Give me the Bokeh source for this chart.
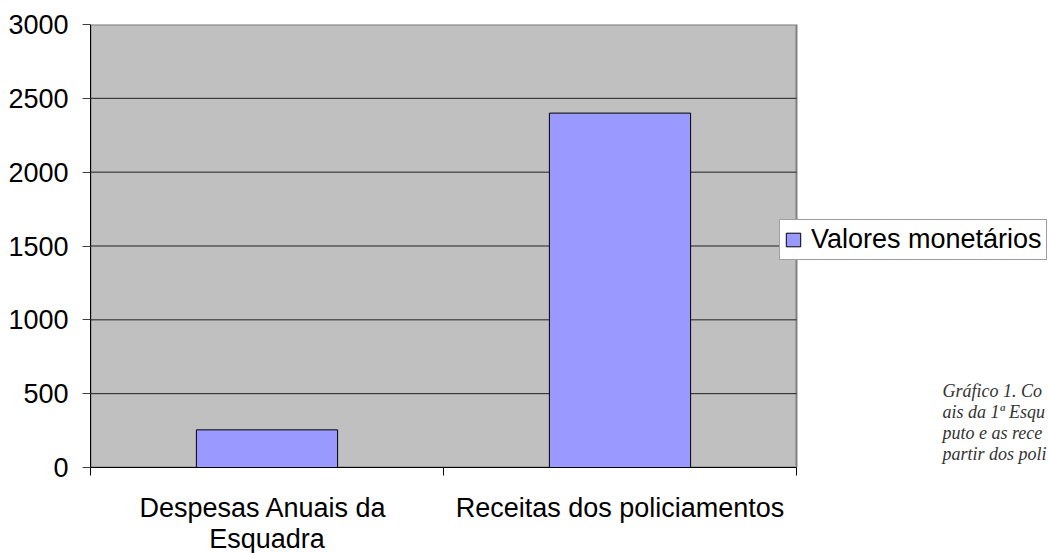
from bokeh.plotting import figure
from bokeh.models import (Range1d, LinearAxis, FixedTicker, Label, ColumnDataSource,
                          BoxAnnotation)
from bokeh.embed import file_html
from bokeh.resources import INLINE

# ---- data ----
categories = ["Despesas  Anuais da\nEsquadra", "Receitas dos policiamentos"]
values = [255, 2400]
series_name = "Valores monetários"
y_ticks = [0, 500, 1000, 1500, 2000, 2500, 3000]
caption_lines = ["Gráfico 1. Co", "ais da 1ª Esqu", "puto e as rece", "partir dos poli"]

FONT = "Liberation Sans"

# layout (pixels)
LEFT, TOP, BOTTOM = 90, 24, 86
PLOT_W, FRAME_W, FRAME_H = 706, 958, 443

n = len(categories)
centers = [i + 0.5 for i in range(n)]
y_max = max(y_ticks)

p = figure(x_range=Range1d(0, n * FRAME_W / PLOT_W), y_range=Range1d(0, y_max),
           frame_width=FRAME_W, frame_height=FRAME_H,
           min_border_left=LEFT, min_border_right=0, min_border_top=TOP,
           min_border_bottom=BOTTOM,
           output_backend="svg", toolbar_location=None,
           x_axis_location=None, y_axis_location=None)

p.background_fill_color = "white"
p.border_fill_color = "white"
p.outline_line_color = None
p.xgrid.visible = False
p.ygrid.visible = False

# plot area (gray) with its border
p.add_layout(BoxAnnotation(left=0, right=n, bottom=0, top=y_max,
                           fill_color="#C0C0C0", fill_alpha=1,
                           line_color="#808080", line_width=2, line_alpha=1,
                           level="underlay"))

# horizontal gridlines
grid_ys = [t for t in y_ticks if 0 < t < y_max]
p.segment(x0=[0] * len(grid_ys), x1=[n] * len(grid_ys), y0=grid_ys, y1=grid_ys,
          line_color="#202020", line_width=1)

src = ColumnDataSource(dict(x=centers, val=values, cat=categories))
p.vbar(x="x", top="val", width=0.4, source=src, fill_color="#9999FF",
       line_color="black", line_width=1, legend_label=series_name)

# y axis
yax = LinearAxis(ticker=FixedTicker(ticks=y_ticks))
yax.axis_line_color = "black"
yax.major_tick_out = 8
yax.major_tick_in = 0
yax.major_tick_line_color = "#404040"
yax.minor_tick_line_color = None
yax.major_label_text_font = FONT
yax.major_label_text_font_size = "27px"
yax.major_label_text_color = "black"
yax.major_label_standoff = 14
p.add_layout(yax, "left")

# x axis: labels at category centres, ticks at category boundaries
xax = LinearAxis(ticker=FixedTicker(ticks=centers, minor_ticks=list(range(n + 1))),
                 bounds=(0, n))
xax.major_label_overrides = {c: lab for c, lab in zip(centers, categories)}
xax.axis_line_color = "black"
xax.major_tick_line_color = None
xax.major_tick_out = 8
xax.major_tick_in = 0
xax.minor_tick_line_color = "black"
xax.minor_tick_out = 8
xax.minor_tick_in = 0
xax.major_label_text_font = FONT
xax.major_label_text_font_size = "27px"
xax.major_label_text_color = "black"
xax.major_label_text_line_height = 1.05
xax.major_label_standoff = 17
p.add_layout(xax, "below")

# legend
lg = p.legend[0]
lg.level = "overlay"
lg.location = (689, 207)
lg.border_line_color = "#404040"
lg.border_line_width = 1
lg.background_fill_color = "white"
lg.background_fill_alpha = 1
lg.padding = 4
lg.margin = 0
lg.glyph_width = 18
lg.glyph_height = 17
lg.label_standoff = 9
lg.label_height = 20
lg.label_text_font = FONT
lg.label_text_font_size = "27px"
lg.label_text_color = "black"

# caption (clipped at right edge, as in the original)
for i, line in enumerate(caption_lines):
    p.add_layout(Label(x=852, y=77 - 21 * i, x_units="screen", y_units="screen",
                       text=line, text_font="Liberation Serif", text_font_style="italic",
                       text_font_size="18px", text_color="#333333",
                       text_baseline="alphabetic", level="overlay"))

open("out.html", "w").write(file_html(p, INLINE))
